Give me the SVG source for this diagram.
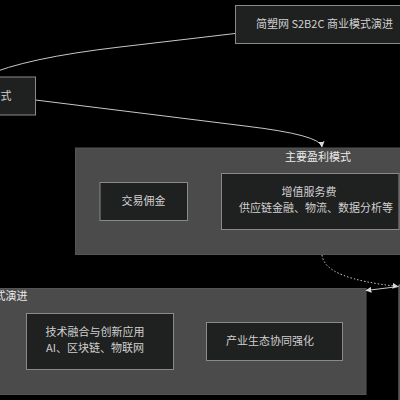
<svg xmlns="http://www.w3.org/2000/svg" width="400" height="400" viewBox="0 0 400 400">
<defs>
<style>
.bg{fill:#000}
.cluster{fill:#4a4b4a;stroke:#555;stroke-width:1}
.node{fill:#1f2020;stroke:#8a8a8a;stroke-width:1}
.t{font-family:"Noto Sans CJK SC","Noto Sans",sans-serif;font-size:11px;fill:#d0d0d0}
.ct{font-family:"Noto Sans CJK SC","Noto Sans",sans-serif;font-size:11px;fill:#ececec}
.edge{fill:none;stroke:#c8c8c8;stroke-width:1}
.dot{fill:none;stroke:#c8c8c8;stroke-width:1;stroke-dasharray:1.5 2}
</style>
<marker id="ah" viewBox="0 0 10 10" refX="9" refY="5" markerWidth="6" markerHeight="6" orient="auto-start-reverse" markerUnits="userSpaceOnUse">
<path d="M0,0 L10,5 L0,10 z" fill="#d8d8d8"/>
</marker>
</defs>
<rect class="bg" x="0" y="0" width="400" height="400"/>

<g id="cluster-profit">
<rect class="cluster" x="75.5" y="148" width="500" height="106.5"/>
<text class="ct" x="318" y="161" text-anchor="middle">主要盈利模式</text>
</g>
<g id="cluster-evolution">
<rect class="cluster" x="-120" y="288.5" width="486" height="106"/>
<text class="ct" x="27.5" y="299.5" text-anchor="end">式演进</text>
</g>

<g id="connectors">
<path class="edge" d="M235,33.5 L120,47 Q25,58 -15,76"/>
<path class="edge" d="M35.5,100 L245,126 Q321,135 322,147" marker-end="url(#ah)"/>
<path class="dot" d="M322,255 C324,272 350,281 398,286.5" marker-end="url(#ah)"/>
<path class="edge" d="M399,286.5 L366,290.5" marker-end="url(#ah)"/>
</g>

<g id="node-title">
<rect class="node" x="235.5" y="5.5" width="180" height="38"/>
<text class="t" x="256" y="28">简塑网 S2B2C 商业模式演进</text>
</g>
<g id="node-left">
<rect class="node" x="-60" y="77" width="95.5" height="38"/>
<text class="t" x="11.5" y="100" text-anchor="end">式</text>
</g>
<g id="node-commission">
<rect class="node" x="100" y="182.5" width="87.5" height="38"/>
<text class="t" x="143.5" y="205" text-anchor="middle">交易佣金</text>
</g>
<g id="node-valueadded">
<rect class="node" x="221.5" y="173.5" width="177.5" height="56"/>
<text class="t" x="309" y="195.5" text-anchor="middle">增值服务费</text>
<text class="t" x="316" y="212" text-anchor="middle">供应链金融、物流、数据分析等</text>
</g>
<g id="node-tech">
<rect class="node" x="26.5" y="313.5" width="147" height="56"/>
<text class="t" x="95" y="335.5" text-anchor="middle">技术融合与创新应用</text>
<text class="t" x="95" y="352" text-anchor="middle">AI、区块链、物联网</text>
</g>
<g id="node-eco">
<rect class="node" x="206.5" y="322.5" width="136" height="38"/>
<text class="t" x="270" y="345" text-anchor="middle">产业生态协同强化</text>
</g>
<g id="node-right">
<rect class="node" x="399" y="285" width="100" height="200"/>
</g>
</svg>
